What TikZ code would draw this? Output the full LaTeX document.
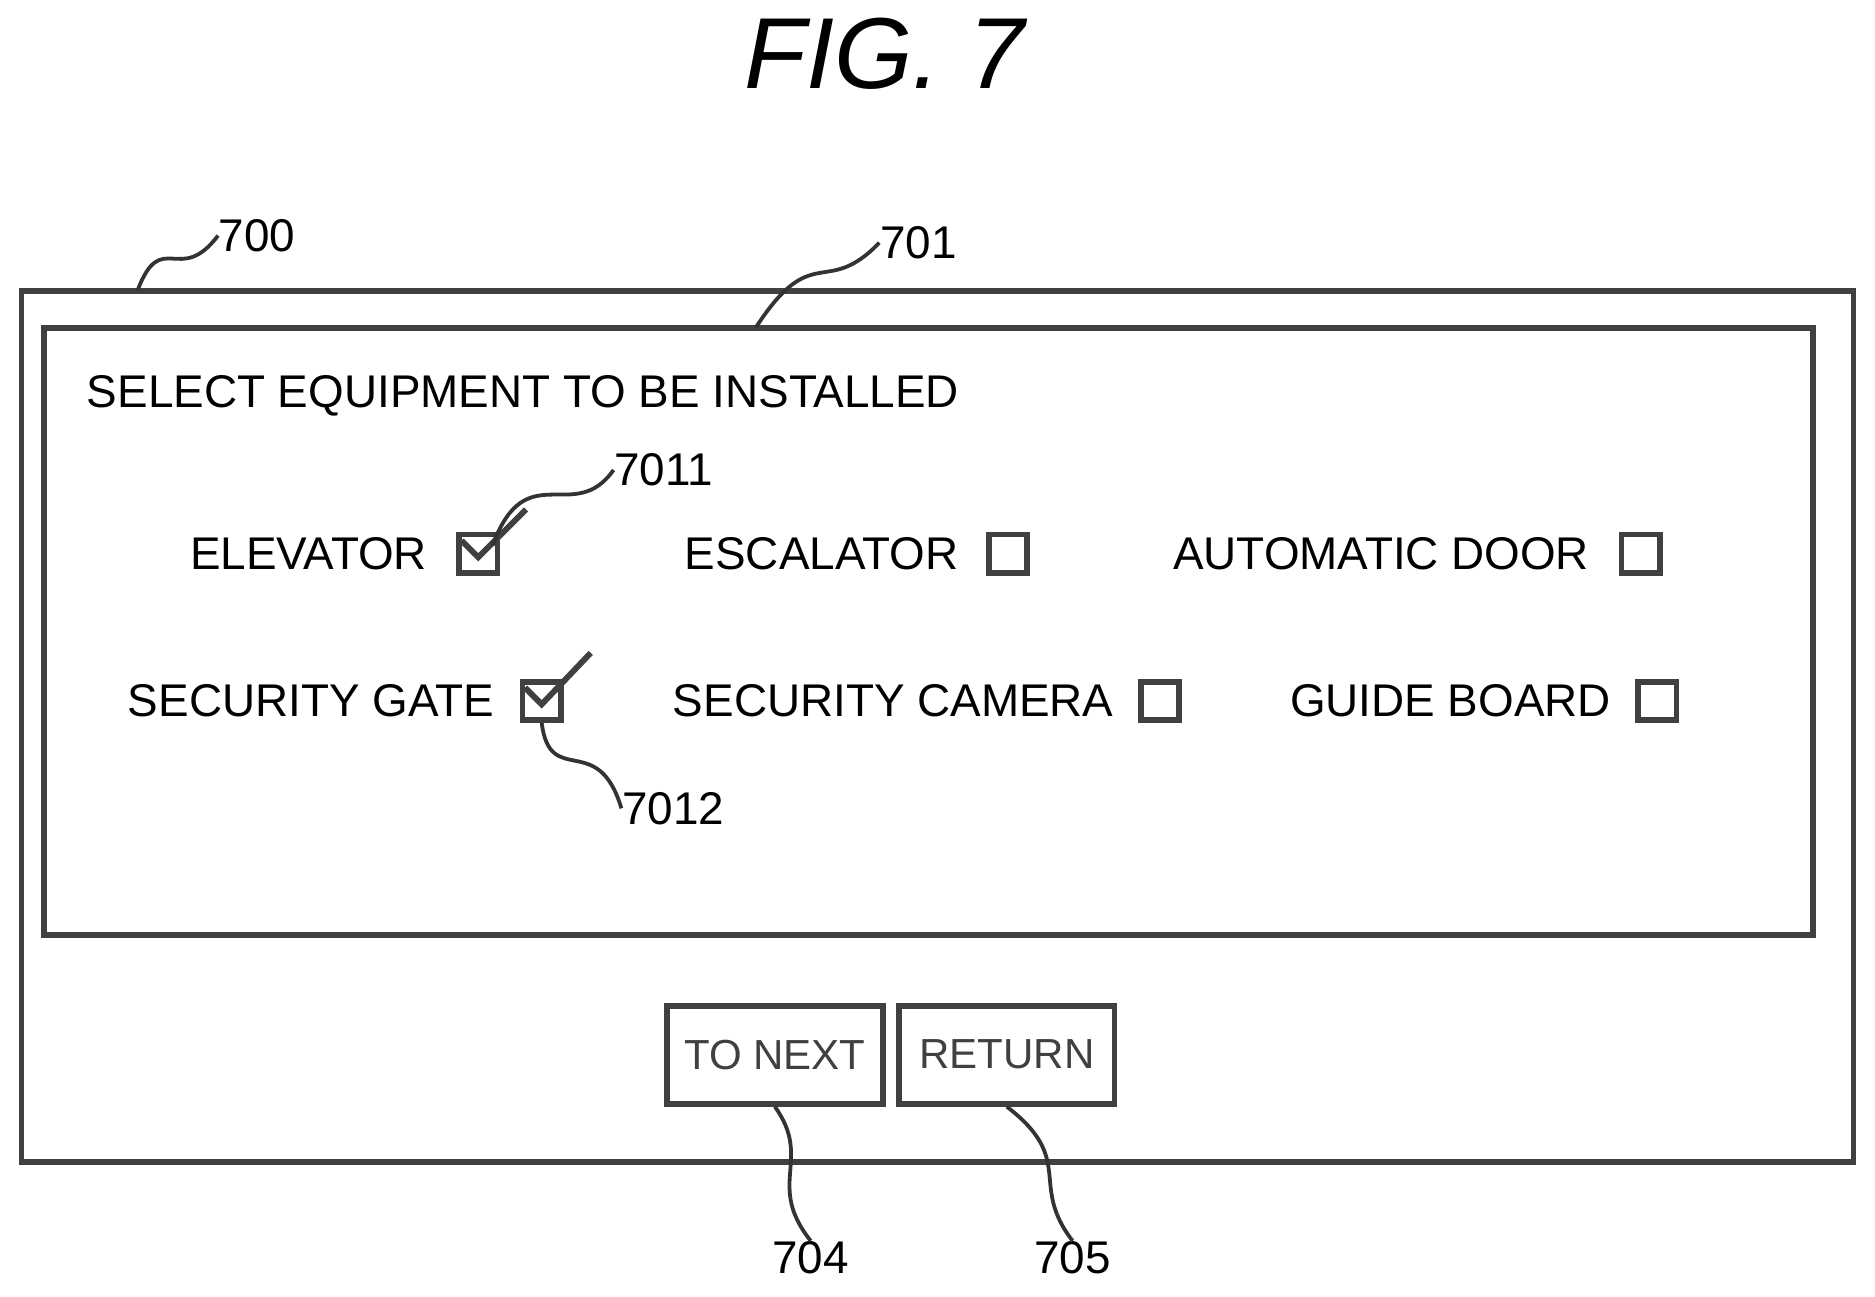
\documentclass[tikz,border=0pt]{standalone}
\usepackage{fontspec}
\setmainfont{Liberation Sans}
\usetikzlibrary{positioning}

\begin{document}
\begin{tikzpicture}[x=0.01cm,y=-0.01cm]
\tikzstyle{every node}+=[inner sep=0pt, font=\fontsize{10.9}{13}\selectfont]
\tikzstyle{frame}=[draw, line width=1.4pt, black!75]
\tikzstyle{chk}=[draw, line width=1.4pt, black!75, minimum size=0.32cm]
\tikzstyle{leader}=[line width=0.9pt, black!80]
\useasboundingbox (0,0) rectangle (1568,1084);
\node (fig) at (740,45) {\fontsize{24}{26}\selectfont\itshape FIG. 7};
\draw [frame] (18,243) rectangle (1550,972);
\draw [frame] (37,274) rectangle (1516,782);
\node [anchor=west] (head) at (72,331) {SELECT EQUIPMENT TO BE INSTALLED};
% first row
\node (elev) at (258,463) {ELEVATOR};
\node [chk] (belev) at (400,463) {};
\node (esc) at (687,463) {ESCALATOR};
\node [chk] (besc) at (843,463) {};
\node (door) at (1155,463) {AUTOMATIC DOOR};
\node [chk] (bdoor) at (1372,463) {};
% second row
\node (gate) at (260,586) {SECURITY GATE};
\node [chk] (bgate) at (453,586) {};
\node (cam) at (747,586) {SECURITY CAMERA};
\node [chk] (bcam) at (970,586) {};
\node (board) at (1213,586) {GUIDE BOARD};
\node [chk] (bboard) at (1386,586) {};
% check marks
\draw [line width=1.4pt, black!75] (386,452) -- (400,466) -- (440,426);
\draw [line width=1.4pt, black!75] (439,575) -- (453,589) -- (494,546);
% buttons
\node [frame, minimum width=1.8cm, minimum height=0.82cm, font=\fontsize{10}{12}\selectfont] (next) at (648,882) {TO NEXT};
\node [frame, minimum width=1.8cm, minimum height=0.82cm, font=\fontsize{10}{12}\selectfont] (ret) at (842,882) {RETURN};
% reference numerals
\node (n700) at (215,197) {700};
\node (n701) at (768,203) {701};
\node (n7011) at (555,393) {7011};
\node (n7012) at (563,676) {7012};
\node (n704) at (678,1052) {704};
\node (n705) at (897,1052) {705};
\coordinate (c700) at (115,243);
\coordinate (c701) at (632,274);
\draw [leader] (c700) .. controls (135,190) and (150,240) .. (n700.west);
\draw [leader] (c701) .. controls (680,200) and (690,250) .. (n701.west);
\draw [leader] (412,456) .. controls (440,380) and (480,440) .. (n7011.west);
\draw [leader] (bgate.south) .. controls (460,660) and (500,610) .. (n7012.west);
\draw [leader] (next.south) .. controls (680,970) and (640,990) .. (n704.north);
\draw [leader] (ret.south) .. controls (900,970) and (860,990) .. (n705.north);
\end{tikzpicture}
\end{document}
